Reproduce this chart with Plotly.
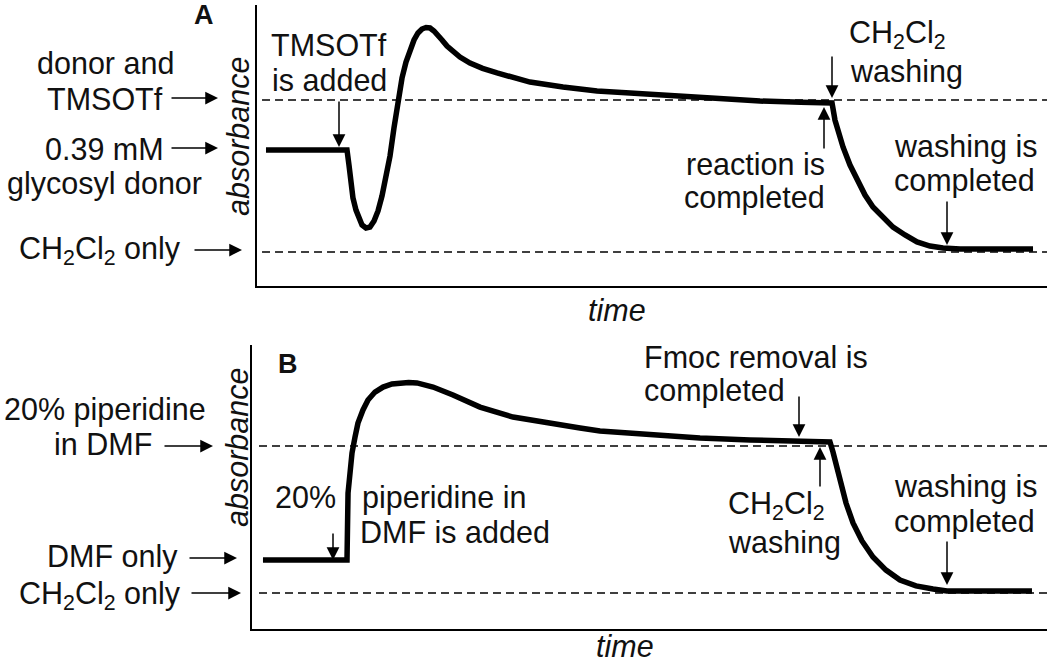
import plotly.graph_objects as go

W, H = 1050, 665
FONT = "Liberation Sans, Arial, sans-serif"

# ---------------- data (time in arbitrary units 0-100, absorbance relative: CH2Cl2 = 0) -------------
time_A = [1.76, 11.95, 12.20, 12.45, 12.70, 13.08, 13.46, 13.84, 14.34, 14.84, 15.35, 15.85, 16.35,
          16.86, 17.36, 17.86, 18.36, 18.87, 19.37, 19.87, 20.38, 20.88, 21.38, 21.89, 22.39, 22.89,
          23.40, 23.90, 24.53, 25.28, 26.16, 27.42, 29.00, 30.82, 32.80, 34.97, 39.12, 43.40,
          47.55, 52.00, 56.35, 63.90, 69.00, 72.70, 72.96, 73.33, 74.34, 75.22, 76.10, 77.11,
          78.11, 79.37, 80.63, 82.14, 83.65, 85.28, 86.92, 89.06, 98.24]
abs_A = [0.671, 0.671, 0.572, 0.454, 0.355, 0.276, 0.217, 0.178, 0.158, 0.164, 0.204, 0.270, 0.368,
         0.493, 0.632, 0.816, 1.0, 1.145, 1.25, 1.336, 1.395, 1.441, 1.467, 1.477, 1.474, 1.454,
         1.428, 1.395, 1.355, 1.316, 1.283, 1.243, 1.208, 1.178, 1.146, 1.118, 1.086, 1.059,
         1.046, 1.030, 1.013, 0.993, 0.985, 0.980, 0.980, 0.868, 0.691, 0.572, 0.474, 0.375,
         0.296, 0.224, 0.164, 0.112, 0.066, 0.039, 0.026, 0.020, 0.020]

time_B = [1.38, 11.95, 12.08, 12.33, 12.58, 12.96, 13.33, 13.96, 14.59, 15.47, 16.48, 17.61, 18.62,
          19.70, 20.75, 22.77, 25.28, 28.68, 32.83, 37.11, 41.26, 43.77, 50.06, 56.35, 62.64, 68.93,
          72.70, 73.08, 73.96, 74.72, 75.60, 76.73, 78.11, 79.75, 81.51, 83.52, 85.66, 87.42, 98.11]
abs_B = [0.224, 0.224, 0.680, 0.837, 0.952, 1.061, 1.156, 1.245, 1.313, 1.367, 1.401, 1.422, 1.429,
         1.432, 1.429, 1.401, 1.347, 1.265, 1.197, 1.156, 1.122, 1.102, 1.075, 1.054, 1.041, 1.034,
         1.027, 0.959, 0.769, 0.612, 0.476, 0.354, 0.245, 0.156, 0.088, 0.048, 0.027, 0.014, 0.014]

levels_A = [0.0, 1.0]          # CH2Cl2 only, donor and TMSOTf
levels_B = [0.0, 1.0]          # CH2Cl2 only, 20% piperidine in DMF
dash_span_A = [1.26, 100]
dash_span_B = [0.88, 100]

# ---------------- figure -------------
fig = go.Figure()
for lv in levels_A:
    fig.add_trace(go.Scatter(x=dash_span_A, y=[lv, lv], mode="lines", xaxis="x", yaxis="y",
                             line=dict(color="black", width=1.5, dash="8px,5px"), hoverinfo="skip"))
for lv in levels_B:
    fig.add_trace(go.Scatter(x=dash_span_B, y=[lv, lv], mode="lines", xaxis="x2", yaxis="y2",
                             line=dict(color="black", width=1.5, dash="8px,5px"), hoverinfo="skip"))
fig.add_trace(go.Scatter(x=time_A, y=abs_A, mode="lines", xaxis="x", yaxis="y",
                         line=dict(color="black", width=5.5)))
fig.add_trace(go.Scatter(x=time_B, y=abs_B, mode="lines", xaxis="x2", yaxis="y2",
                         line=dict(color="black", width=5.5)))


def X(p):
    return p / W


def Y(p):
    return 1 - p / H


axis_common = dict(showline=True, linecolor="black", linewidth=1.5, showgrid=False, zeroline=False,
                   showticklabels=False, ticks="", fixedrange=True)

fig.update_layout(
    width=W, height=H, autosize=False,
    margin=dict(l=0, r=0, t=0, b=0),
    paper_bgcolor="white", plot_bgcolor="white",
    showlegend=False,
    font=dict(family=FONT, size=30, color="#111111"),
    xaxis=dict(domain=[X(257), X(1047)], range=[(257 - 252) / 7.95, 100], anchor="y", **axis_common),
    yaxis=dict(domain=[Y(286), Y(5)], range=[-34 / 152, 247 / 152], anchor="x", **axis_common),
    xaxis2=dict(domain=[X(252), X(1047)], range=[0, 100], anchor="y2", **axis_common),
    yaxis2=dict(domain=[Y(629), Y(345)], range=[-36 / 147, 248 / 147], anchor="x2", **axis_common),
)

annots = []
FS = 30.5


def txt(s, x, y, xa="center", size=FS, bold=False, italic=False, angle=0):
    if bold:
        s = "<b>" + s + "</b>"
    if italic:
        s = "<i>" + s + "</i>"
    annots.append(dict(text=s, x=X(x), y=Y(y), xref="paper", yref="paper", xanchor=xa,
                       yanchor="middle", showarrow=False, textangle=angle,
                       font=dict(family=FONT, size=size, color="#111111")))


def arrow(x0, y0, x1, y1):
    # tail (x0,y0) -> head (x1,y1), pixel coordinates
    annots.append(dict(text="", x=X(x1), y=Y(y1), xref="paper", yref="paper",
                       ax=x0 - x1, ay=y0 - y1, axref="pixel", ayref="pixel",
                       showarrow=True, arrowhead=2, arrowsize=1.7, arrowwidth=1.5,
                       arrowcolor="black"))


CH2CL2 = "CH<sub>2</sub>Cl<sub>2</sub>"

# ---- panel A ----
txt("A", 204, 15, size=27, bold=True)
txt("donor and", 105, 63)
txt("TMSOTf", 105, 99)
txt("0.39 mM", 104, 149)
txt("glycosyl donor", 104, 183)
txt(CH2CL2 + " only", 183, 250, xa="right")
arrow(170, 98, 218, 98)
arrow(170, 148, 218, 148)
arrow(193, 250, 242, 250)
txt("absorbance", 238, 137, italic=True, angle=-90)
txt("TMSOTf", 329, 45)
txt("is added", 329, 80)
arrow(339, 100, 339, 147)
txt(CH2CL2, 847, 35, xa="left")
txt("washing", 848, 72, xa="left")
arrow(832, 55, 832, 98)
txt("reaction is", 827, 164, xa="right")
txt("completed", 827, 197, xa="right")
arrow(824, 150, 824, 107)
txt("washing is", 965, 146)
txt("completed", 964, 181)
arrow(947, 200, 947, 245)
txt("time", 617, 310, italic=True)

# ---- panel B ----
txt("B", 288, 364, size=27, bold=True)
txt("20% piperidine", 105, 409)
txt("in DMF", 103, 444)
arrow(163, 446, 213, 446)
txt("DMF only", 180, 556, xa="right")
arrow(188, 558, 237, 558)
txt(CH2CL2 + " only", 183, 595, xa="right")
arrow(190, 593, 241, 593)
txt("absorbance", 237, 447, italic=True, angle=-90)
txt("20%", 338, 497, xa="right")
txt("piperidine in", 360, 497, xa="left")
txt("DMF is added", 358, 532, xa="left")
arrow(333, 532, 333, 560)
txt("Fmoc removal is", 642, 357, xa="left")
txt("completed", 642, 390, xa="left")
arrow(799, 395, 799, 437)
txt(CH2CL2, 726, 505, xa="left")
txt("washing", 726, 542, xa="left")
arrow(820, 488, 820, 447)
txt("washing is", 965, 486)
txt("completed", 964, 521)
arrow(947, 540, 947, 585)
txt("time", 625, 646, italic=True)

fig.update_layout(annotations=annots)
fig.write_html("out.html", config={"displayModeBar": False},
               post_script="document.body.style.margin='0';document.body.style.overflow='hidden';")
